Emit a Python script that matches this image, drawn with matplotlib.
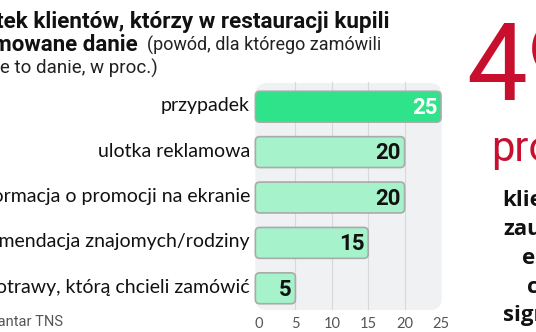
import matplotlib as mpl
import matplotlib.pyplot as plt
from matplotlib.patches import FancyBboxPatch

mpl.rcParams["font.family"] = ['Lato', 'DejaVu Sans']

# dane
kategorie = ['przypadek', 'ulotka reklamowa', 'informacja o promocji na ekranie',
             'rekomendacja znajomych/rodziny', 'brak potrawy, którą chcieli zamówić']
wartosci = [25, 20, 20, 15, 5]
ticki = [0, 5, 10, 15, 20, 25]

W, H = 536, 332
fig = plt.figure(figsize=(W / 100, H / 100), dpi=100)
fig.patch.set_facecolor('white')


def fx(px):
    return px / W


def fy(py):
    return 1 - py / H


# osie w pikselach: x 0..25 -> 259..441, y 5 wierszy 84..311
x0, x1 = 259, 441
y_top, y_bot = 84, 311
ax = fig.add_axes([x0 / W, 1 - y_bot / H, (x1 - x0) / W, (y_bot - y_top) / H])
ax.set_xlim(0, 25)
ax.set_ylim(len(kategorie) - 0.5, -0.5)
ax.axis('off')

px_x = (x1 - x0) / 25.0
px_y = (y_bot - y_top) / len(kategorie)
aspect = px_x / px_y

# tlo panelu
panel = FancyBboxPatch((-0.5, -0.52), 25.6, 5.0, boxstyle='round,pad=0,rounding_size=1.6',
                       mutation_aspect=aspect, facecolor='#f0f1f3', edgecolor='none', zorder=0,
                       clip_on=False)
ax.add_patch(panel)
for t in ticki[1:-1]:
    ax.plot([t, t], [-0.55, 4.45], color='#d6d8da', lw=0.8, zorder=1, clip_on=False)

# slupki
for i, (k, v) in enumerate(zip(kategorie, wartosci)):
    fc = '#2ee38a' if i == 0 else '#a6f2ca'
    bar = FancyBboxPatch((-0.5, i - 0.34), v + 0.5, 0.68,
                         boxstyle='round,pad=0,rounding_size=0.6', mutation_aspect=aspect,
                         facecolor=fc, edgecolor='#a9aaaa', lw=1.2, zorder=2, clip_on=False)
    ax.add_patch(bar)
    ax.text(v - 0.5, i + 0.03, str(v), ha='right', va='center', fontsize=16, fontweight='bold',
            family=['Roboto', 'DejaVu Sans'],
            color='white' if i == 0 else '#111111', zorder=3)
    ax.text(-1.25, i - 0.02, k, ha='right', va='center', fontsize=14, color='#111111')

for t in ticki:
    ax.text(t, 5.0 - 0.22, str(t), ha='center', va='center', fontsize=10.5, color='#555555')

# tytul
sans = ['Roboto', 'DejaVu Sans']
fig.text(fx(390), fy(22), 'Odsetek klientów, którzy w restauracji kupili', fontsize=16.2,
         fontweight='bold', color='#111111', va='center', ha='right', family=sans)
fig.text(fx(138), fy(45), 'promowane danie', fontsize=16.0, fontweight='bold',
         color='#111111', va='center', ha='right', family=sans)
fig.text(fx(147), fy(45), '(powód, dla którego zamówili', fontsize=13, color='#222222',
         va='center', ha='left', family=sans)
fig.text(fx(158), fy(68), 'właśnie to danie, w proc.)', fontsize=13.5, color='#222222',
         va='center', ha='right', family=sans)
fig.text(fx(63), fy(322), 'Źródło: Kantar TNS', fontsize=10.5, color='#555555', va='center',
         ha='right', family=sans)

# prawa kolumna
red = '#c8102e'
fig.text(fx(466), fy(100), '49', fontsize=78, color=red, va='baseline', ha='left', family=sans)
fig.text(fx(491), fy(161), 'proc.', fontsize=30, color=red, va='baseline', ha='left', family=sans)
prawe = [('klientów', 502, 200), ('zauważyło', 503, 229), ('ekran', 522, 258),
         ('cyfrowy', 527, 287), ('signage', 503, 315)]
for s, x, y in prawe:
    fig.text(fx(x), fy(y), s, fontsize=16, fontweight='bold', color='#111111', va='center',
             ha='left', family=['Open Sans', 'DejaVu Sans'])

fig.savefig('out.png', dpi=100)
